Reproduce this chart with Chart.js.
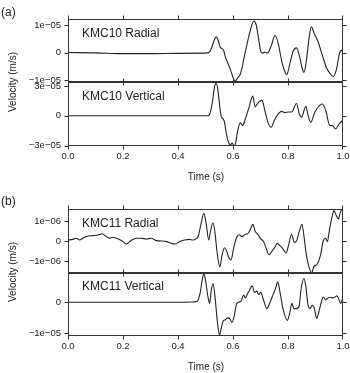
<!DOCTYPE html>
<html>
<head>
<meta charset="utf-8">
<script src="https://cdn.jsdelivr.net/npm/chart.js@4.4.1/dist/chart.umd.min.js"></script>
<style>
	body { margin: 0; background: #fff; }
	#wrap { position: relative; width: 350px; height: 373px; overflow: hidden; font-family: "Liberation Sans", Arial, sans-serif; color: #222; }
	canvas { position: absolute; left: 0; }
	.lbl { position: absolute; white-space: nowrap; line-height: 14px; transform: translate(0, -50%); }
	.mid { transform: translate(-50%, -50%); }
	.rot { transform: translate(-50%, -50%) rotate(-90deg); }
</style>
</head>
<body>
<div id="wrap">
	<canvas id="cA1" width="350" height="83" style="top:9px"></canvas>
	<canvas id="cA2" width="350" height="94" style="top:72px"></canvas>
	<canvas id="cB1" width="350" height="84" style="top:199px"></canvas>
	<canvas id="cB2" width="350" height="93" style="top:263px"></canvas>

	<div class="lbl" style="left:1px;top:12px;font-size:12px">(a)</div>
	<div class="lbl" style="left:1px;top:201px;font-size:12px">(b)</div>
	<div class="lbl rot" style="left:13px;top:82px;font-size:10px">Velocity (m/s)</div>
	<div class="lbl rot" style="left:13px;top:272px;font-size:10px">Velocity (m/s)</div>
	<div class="lbl mid" style="left:206px;top:177px;font-size:10px">Time (s)</div>
	<div class="lbl mid" style="left:206px;top:367px;font-size:10px">Time (s)</div>
	<div class="lbl" style="left:82px;top:32.5px;font-size:12px">KMC10 Radial</div>
	<div class="lbl" style="left:82px;top:96px;font-size:12px">KMC10 Vertical</div>
	<div class="lbl" style="left:82px;top:223px;font-size:12px">KMC11 Radial</div>
	<div class="lbl" style="left:82px;top:286px;font-size:12px">KMC11 Vertical</div>
</div>
<script>
( function () {
	'use strict';

	// time axis ticks (s)
	const X_TICKS = [ 0, 0.2, 0.4, 0.6, 0.8, 1.0 ];

	// KMC10 radial, values in 1e-05 m/s
	const T_RAD_A = [ 0, 0.1, 0.2, 0.3, 0.4, 0.5, 0.512, 0.520, 0.530, 0.539, 0.547, 0.553, 0.560, 0.566, 0.572, 0.580, 0.590, 0.600, 0.608, 0.617, 0.626, 0.633, 0.639, 0.651, 0.663, 0.675, 0.684, 0.694, 0.702, 0.709, 0.717, 0.724, 0.731, 0.740, 0.753, 0.765, 0.777, 0.787, 0.795, 0.807, 0.819, 0.831, 0.841, 0.851, 0.858, 0.867, 0.877, 0.885, 0.895, 0.909, 0.925, 0.940, 0.952, 0.964, 0.976, 0.988, 0.998, 1.0 ];
	const RAD_A = [ 0, -0.01, -0.04, -0.04, -0.03, -0.02, 0, 0.12, 0.40, 0.57, 0.42, 0.20, 0.14, 0.08, -0.15, -0.35, -0.60, -0.90, -1.04, -0.92, -0.80, -0.55, -0.25, 0.31, 0.81, 1.15, 1.02, 0.44, 0.02, -0.02, 0.02, -0.02, 0.05, 0.28, 0.62, 0.31, -0.31, -0.65, -0.81, -0.40, 0.06, 0.17, -0.10, -0.55, -0.72, -0.28, 0.55, 0.94, 0.70, 0.40, -0.10, -0.55, -0.75, -0.87, -0.62, 0, 0.09, 0.10 ];

	// KMC10 vertical, values in 1e-05 m/s
	const T_VER_A = [ 0, 0.2, 0.4, 0.505, 0.512, 0.518, 0.527, 0.533, 0.539, 0.545, 0.552, 0.558, 0.564, 0.569, 0.576, 0.584, 0.591, 0.597, 0.604, 0.610, 0.617, 0.627, 0.635, 0.645, 0.657, 0.672, 0.681, 0.689, 0.705, 0.717, 0.729, 0.739, 0.750, 0.762, 0.777, 0.789, 0.801, 0.813, 0.831, 0.841, 0.849, 0.865, 0.873, 0.883, 0.898, 0.925, 0.937, 0.952, 0.961, 0.973, 0.986, 0.998, 1.0 ];
	const VER_A = [ 0, 0, 0, 0, 0.03, 0.4, 1.74, 2.94, 3.28, 2.6, 0.89, -0.14, -0.31, -0.65, -1.84, -2.7, -2.92, -2.75, -3.04, -2.7, -1.5, -0.72, -0.99, -0.31, 0.72, 1.98, 0.89, 1.23, 1.57, 0.38, -0.82, -1.16, -0.48, 0.1, 0.44, 0.31, 0.38, 0.38, 1.23, 0.2, -0.14, 0.96, 0.03, -0.65, 0.38, 1.19, 0.55, -0.99, -1.0, -1.33, -0.82, -0.48, -0.45 ];

	// KMC11 radial, values in 1e-06 m/s
	const T_RAD_B = [ 0, 0.018, 0.030, 0.042, 0.054, 0.073, 0.091, 0.109, 0.124, 0.139, 0.151, 0.163, 0.175, 0.187, 0.200, 0.212, 0.224, 0.236, 0.251, 0.266, 0.285, 0.303, 0.321, 0.339, 0.358, 0.376, 0.392, 0.406, 0.424, 0.442, 0.454, 0.467, 0.474, 0.482, 0.494, 0.502, 0.512, 0.518, 0.527, 0.534, 0.542, 0.552, 0.560, 0.569, 0.576, 0.584, 0.593, 0.602, 0.612, 0.624, 0.633, 0.645, 0.653, 0.663, 0.672, 0.681, 0.690, 0.699, 0.711, 0.720, 0.731, 0.741, 0.751, 0.761, 0.771, 0.781, 0.793, 0.802, 0.813, 0.823, 0.831, 0.841, 0.851, 0.859, 0.867, 0.877, 0.886, 0.894, 0.906, 0.918, 0.928, 0.937, 0.943, 0.952, 0.961, 0.967, 0.976, 0.983, 0.990, 0.998, 1.0 ];
	const RAD_B = [ 0.05, 0.08, 0.14, 0.05, 0.14, 0.25, 0.27, 0.30, 0.36, 0.22, 0.14, 0.19, 0.14, 0.08, -0.03, -0.15, -0.03, 0.08, 0.14, 0.14, 0.10, 0.14, 0.02, 0, -0.03, -0.12, -0.15, -0.03, 0.05, 0.08, 0.05, 0.12, 0.25, 0.74, 1.38, 0.91, 0.05, 0.48, 0.91, 0.48, -0.55, -1.29, -0.72, -0.34, -0.47, -0.81, -0.95, -0.38, 0.14, 0.31, 0.21, 0.34, 0.36, 0.57, 0.83, 0.48, 0.34, 0.14, -0.03, -0.34, -0.69, -0.52, -0.34, -0.12, -0.24, -0.38, -0.60, -0.21, 0.34, -0.07, 0, 0.48, 0.83, 0.14, -0.72, -1.33, -1.59, -1.28, -1.16, -0.72, 0, 0.14, -0.03, 0.66, 1.26, 1.52, 1.26, 1.09, 1.43, 1.6, 1.62 ];

	// KMC11 vertical, values in 1e-05 m/s
	const T_VER_B = [ 0, 0.2, 0.4, 0.46, 0.470, 0.480, 0.488, 0.494, 0.500, 0.509, 0.515, 0.521, 0.527, 0.534, 0.542, 0.551, 0.557, 0.564, 0.572, 0.581, 0.588, 0.596, 0.605, 0.612, 0.620, 0.629, 0.639, 0.645, 0.653, 0.660, 0.670, 0.678, 0.687, 0.693, 0.701, 0.711, 0.723, 0.733, 0.745, 0.755, 0.763, 0.771, 0.783, 0.798, 0.807, 0.814, 0.822, 0.831, 0.841, 0.847, 0.858, 0.865, 0.873, 0.880, 0.888, 0.896, 0.904, 0.912, 0.920, 0.928, 0.937, 0.943, 0.952, 0.961, 0.970, 0.978, 0.986, 0.992, 0.998, 1.0 ];
	const VER_B = [ 0, 0, 0, 0.01, 0.03, 0.28, 0.72, 0.93, 0.72, 0.17, -0.04, 0.39, 0.61, 0.23, -0.53, -1.08, -0.86, -0.62, -0.57, -0.51, -0.53, -0.66, -0.42, -0.08, 0.00, 0.03, 0.23, 0.14, 0.28, 0.39, 0.53, 0.32, 0.36, 0.25, 0.32, 0.07, -0.21, -0.04, 0.23, 0.45, 0.66, 0.32, -0.26, -0.59, -0.32, -0.04, -0.21, -0.21, -0.10, 0.39, 0.77, 0.50, -0.10, -0.21, -0.10, -0.21, -0.53, -0.32, -0.04, 0.17, 0.07, 0.12, 0.16, 0.14, 0.16, 0.21, 0.07, -0.04, 0.10, 0.12 ];

	// y tick values and labels
	const Y_TICKS_RAD_A = [ -1e-5, 0, 1e-5 ];
	const Y_LABELS_RAD_A = [ '\u22121e\u221205', '0', '1e\u221205' ];
	const Y_TICKS_VER_A = [ -3e-5, 0, 3e-5 ];
	const Y_LABELS_VER_A = [ '\u22123e\u221205', '0', '3e\u221205' ];
	const Y_TICKS_RAD_B = [ -1e-6, 0, 1e-6 ];
	const Y_LABELS_RAD_B = [ '\u22121e\u221206', '0', '1e\u221206' ];
	const Y_TICKS_VER_B = [ -1e-5, 0 ];
	const Y_LABELS_VER_B = [ '\u22121e\u221205', '0' ];

	const INK = '#222';
	const FRAME = '#333';
	const TICK_FONT = { family: '"Liberation Sans", Arial, sans-serif', size: 9.5 };
	const TICK_LEN = 4;

	// frame with outward ticks on all four sides
	const framePlugin = {
		id: 'frame',
		afterDraw: function ( chart ) {
			const ctx = chart.ctx;
			const a = chart.chartArea;
			const xs = chart.scales.x;
			const ys = chart.scales.y;
			const l = Math.round( a.left ) + 0.5;
			const r = Math.round( a.right ) - 0.5;
			const t = Math.round( a.top ) + 0.5;
			const b = Math.round( a.bottom ) - 0.5;

			ctx.save();
			ctx.strokeStyle = FRAME;
			ctx.lineWidth = 1;
			ctx.strokeRect( l, t, r - l, b - t );

			ctx.beginPath();
			X_TICKS.forEach( function ( v ) {
				const px = Math.round( xs.getPixelForValue( v ) ) + 0.5;
				const cx = Math.min( Math.max( px, l ), r );
				ctx.moveTo( cx, t );
				ctx.lineTo( cx, t - TICK_LEN );
				ctx.moveTo( cx, b );
				ctx.lineTo( cx, b + TICK_LEN );
			} );
			ys.ticks.forEach( function ( tick ) {
				const py = Math.round( ys.getPixelForValue( tick.value ) ) + 0.5;
				ctx.moveTo( l, py );
				ctx.lineTo( l - TICK_LEN, py );
				ctx.moveTo( r, py );
				ctx.lineTo( r + TICK_LEN, py );
			} );
			ctx.stroke();
			ctx.restore();
		},
	};

	function makeTrace( id, times, values, unit, yMin, yMax, yTicks, yLabels, showX ) {
		const points = times.map( function ( t, i ) {
			return { x: t, y: values[ i ] * unit };
		} );

		return new Chart( document.getElementById( id ), {
			type: 'line',
			data: {
				datasets: [ {
					data: points,
					borderColor: INK,
					borderWidth: 1.1,
					pointRadius: 0,
					fill: false,
					cubicInterpolationMode: 'monotone',
				} ],
			},
			options: {
				responsive: false,
				animation: false,
				devicePixelRatio: 1,
				layout: {
					padding: { top: 10, right: 7, bottom: showX ? 0 : 10, left: 0 },
				},
				plugins: {
					legend: { display: false },
					tooltip: { enabled: false },
				},
				scales: {
					x: {
						type: 'linear',
						min: 0,
						max: 1,
						display: showX,
						grid: { display: false, drawTicks: false },
						border: { display: false },
						afterBuildTicks: function ( scale ) {
							scale.ticks = X_TICKS.map( function ( v ) {
								return { value: v };
							} );
						},
						ticks: {
							padding: 5,
							maxRotation: 0,
							autoSkip: false,
							color: INK,
							font: TICK_FONT,
							callback: function ( v ) {
								return Number( v ).toFixed( 1 );
							},
						},
						afterFit: function ( scale ) {
							// labels may hang past the frame, keep the plot width fixed
							scale.paddingLeft = 0;
							scale.paddingRight = 0;
							if ( showX ) {
								scale.height = 20;
							}
						},
					},
					y: {
						type: 'linear',
						min: yMin,
						max: yMax,
						grid: { display: false, drawTicks: false },
						border: { display: false },
						afterBuildTicks: function ( scale ) {
							scale.ticks = yTicks.map( function ( v ) {
								return { value: v };
							} );
						},
						ticks: {
							padding: 7,
							autoSkip: false,
							color: INK,
							font: TICK_FONT,
							callback: function ( v, i ) {
								return yLabels[ i ];
							},
						},
						afterFit: function ( scale ) {
							scale.width = 68;
							scale.paddingTop = 0;
							scale.paddingBottom = 0;
						},
					},
				},
			},
			plugins: [ framePlugin ],
		} );
	}

	makeTrace( 'cA1', T_RAD_A, RAD_A, 1e-5, -1.07e-5, 1.22e-5, Y_TICKS_RAD_A, Y_LABELS_RAD_A, false );
	makeTrace( 'cA2', T_VER_A, VER_A, 1e-5, -3.05e-5, 3.4e-5, Y_TICKS_VER_A, Y_LABELS_VER_A, true );
	makeTrace( 'cB1', T_RAD_B, RAD_B, 1e-6, -1.6e-6, 1.6e-6, Y_TICKS_RAD_B, Y_LABELS_RAD_B, false );
	makeTrace( 'cB2', T_VER_B, VER_B, 1e-5, -1.1e-5, 0.95e-5, Y_TICKS_VER_B, Y_LABELS_VER_B, true );
}() );
</script>
</body>
</html>
